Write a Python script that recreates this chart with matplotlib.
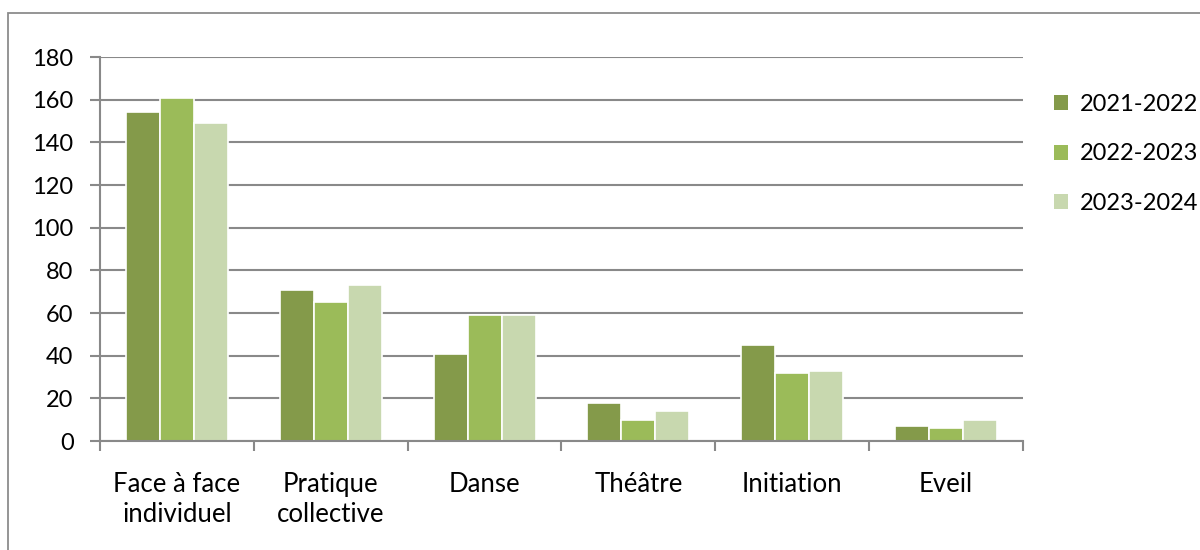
import matplotlib.pyplot as plt
import numpy as np
from matplotlib.patches import Patch, Rectangle

plt.rcParams['font.family'] = ['Lato', 'DejaVu Sans']

# données
categories = ['Face à face\nindividuel', 'Pratique\ncollective', 'Danse', 'Théâtre', 'Initiation', 'Eveil']
series_names = ['2021-2022', '2022-2023', '2023-2024']
v_2021 = [154, 71, 41, 18, 45, 7]
v_2022 = [161, 65, 59, 10, 32, 6]
v_2023 = [149, 73, 59, 14, 33, 10]
yticks = [0, 20, 40, 60, 80, 100, 120, 140, 160, 180]

colors = ['#849a4a', '#9bbb59', '#c8d8af']
grid_col = '#898989'

fig = plt.figure(figsize=(12, 5.5), dpi=100)
ax = fig.add_axes([100 / 1200, 1 - 441 / 550, 923 / 1200, 384 / 550])

x = np.arange(len(categories))
w = 0.221
for i, vals in enumerate([v_2021, v_2022, v_2023]):
    ax.bar(x + (i - 1) * w, vals, width=w, color=colors[i], edgecolor='white',
           linewidth=1.2, zorder=3, label=series_names[i])

ax.set_xlim(-0.5, len(categories) - 0.5)
ax.set_ylim(0, 180)
ax.set_yticks(yticks)
ax.yaxis.grid(True, color=grid_col, linewidth=1.5, zorder=0)
ax.set_axisbelow(True)

# ticks de l'axe x entre les catégories
ax.set_xticks(np.arange(len(categories) + 1) - 0.5)
ax.set_xticklabels([])
ax.set_xticks(x, minor=True)
ax.set_xticklabels(categories, minor=True, fontsize=18.5, linespacing=1.25)
ax.tick_params(axis='x', which='major', direction='out', length=7, width=1.5, color=grid_col)
ax.tick_params(axis='x', which='minor', length=0, pad=22)
ax.tick_params(axis='y', direction='out', length=7, width=1.5, color=grid_col,
               labelsize=17, pad=12)

for s in ['top', 'right']:
    ax.spines[s].set_visible(False)
for s in ['left', 'bottom']:
    ax.spines[s].set_color(grid_col)
    ax.spines[s].set_linewidth(1.5)
ax.spines['bottom'].set_zorder(4)

handles = [Patch(facecolor=c, edgecolor='none') for c in colors]
fig.legend(handles, series_names, loc='upper left',
           bbox_to_anchor=(1054 / 1200, 1 - 94 / 550), frameon=False,
           fontsize=17, handlelength=0.6, handleheight=0.6,
           handletextpad=0.5, labelspacing=1.2, borderaxespad=0, borderpad=0)

# cadre du graphique
fig.patches.append(Rectangle((8 / 1200, -0.05), 1.1, 1 - 13 / 550 + 0.05,
                             transform=fig.transFigure, fill=False,
                             edgecolor='#8c8c8c', linewidth=1.3))

fig.savefig('out.png', dpi=100)
